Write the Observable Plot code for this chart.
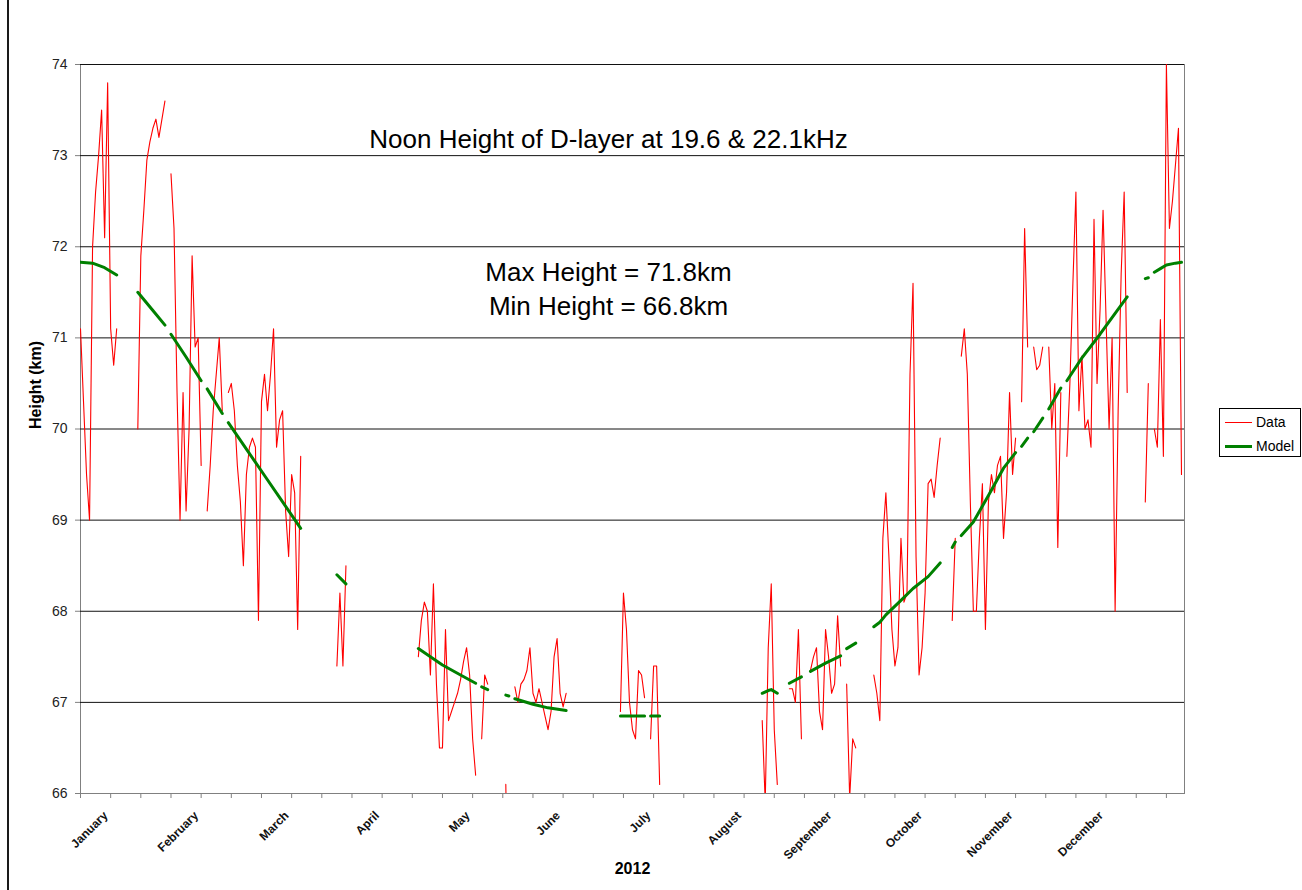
<!DOCTYPE html>
<html>
<head>
<meta charset="utf-8">
<script src="https://cdn.jsdelivr.net/npm/d3@7"></script>
<script src="https://cdn.jsdelivr.net/npm/@observablehq/plot@0.6"></script>
<style>
  body { margin: 0; background: #fff; font-family: "Liberation Sans", Arial, sans-serif; }
  #wrap { position: relative; width: 1302px; height: 890px; overflow: hidden; background: #fff; }
  #edge { position: absolute; left: 7px; top: 0; width: 2px; height: 890px; background: #1a1a1a; }
  #chart { position: absolute; left: 0; top: 0; }
  #legend { position: absolute; left: 1219px; top: 408px; width: 80px; height: 47px; border: 1px solid #000; background: #fff; font-size: 14px; color: #000; }
  .lg-line { position: absolute; left: 5px; width: 27px; }
  .lg-text { position: absolute; left: 36px; line-height: 16px; white-space: nowrap; }
</style>
</head>
<body>
<div id="wrap">
  <div id="edge"></div>
  <div id="chart"></div>
  <div id="legend"></div>
</div>
<script>
// ---- tick labels / categories ----
const monthLabels = ["January","February","March","April","May","June","July","August","September","October","November","December"];
const monthLengths = [31,29,31,30,31,30,31,31,30,31,30,31];
const monthTickDays = [10,40,70,100,130,160,190,220,250,280,310,340];
const yTicks = [66,67,68,69,70,71,72,73,74];
const titleText = "Noon Height of D-layer at 19.6 & 22.1kHz";
const maxText = "Max Height = 71.8km";
const minText = "Min Height = 66.8km";
const xLabel = "2012";
const yLabel = "Height (km)";
const seriesNames = ["Data","Model"];

// ---- Data series: daily noon height (km), one value per day of month, null = no data ----
const janHeights = [71.1,70.3,69.5,69.0,72.0,72.6,73.0,73.5,72.1,73.8,71.1,70.7,71.1,null,null,null,null,null,null,70.0,71.9,72.4,72.95,73.15,73.3,73.4,73.2,73.4,73.6,null,72.8];
const febHeights = [72.2,70.4,69.0,70.4,69.1,70.0,71.9,70.9,71.0,69.6,null,69.1,69.6,70.2,70.6,71.0,70.2,null,70.4,70.5,70.2,69.6,69.2,68.5,69.5,69.8,69.9,69.8,67.9];
const marHeights = [70.3,70.6,70.2,70.6,71.1,69.8,70.1,70.2,69.1,68.6,69.5,69.3,67.8,69.7,null,null,null,null,null,null,null,null,null,null,null,67.4,68.2,67.4,68.5,null,null];
const aprHeights = [null,null,null,null,null,null,null,null,null,null,null,null,null,null,null,null,null,null,null,null,null,67.5,67.9,68.1,68.0,67.3,68.3,67.2,66.5,66.5];
const mayHeights = [67.8,66.8,66.9,67.0,67.1,67.25,67.45,67.6,67.3,66.6,66.2,null,66.6,67.3,67.2,null,null,null,null,null,66.1,64.0,null,67.17,67.0,67.2,67.25,67.35,67.6,67.1,67.0];
const junHeights = [67.15,67.0,66.85,66.7,66.9,67.5,67.7,67.1,66.95,67.1,null,null,null,null,null,null,null,null,null,null,null,null,null,null,null,null,null,66.9,68.2,67.8];
const julHeights = [67.0,66.7,66.6,67.35,67.3,67.05,null,66.6,67.4,67.4,66.1,null,null,null,null,null,null,null,null,null,null,null,null,null,null,null,null,null,null,null,null];
const augHeights = [null,null,null,null,null,null,null,null,null,null,null,null,null,66.8,65.9,67.6,68.3,66.7,66.1,null,null,null,67.15,67.15,67.0,67.8,66.6,null,null,67.35,67.5];
const sepHeights = [67.6,66.9,66.7,67.8,67.5,67.1,67.2,67.95,67.4,null,67.2,65.95,66.6,66.5,null,null,null,null,null,67.3,67.1,66.8,68.8,69.3,68.6,67.8,67.4,67.6,68.8,68.1];
const octHeights = [68.2,70.6,71.6,68.6,67.3,67.6,68.2,69.4,69.45,69.25,69.6,69.9,null,null,null,67.9,68.8,null,70.8,71.1,70.6,69.2,68.0,68.0,68.8,69.4,67.8,69.2,69.5,69.3,69.6];
const novHeights = [69.7,68.8,69.3,70.4,69.5,69.9,null,70.3,72.2,70.9,null,70.9,70.65,70.7,70.9,null,70.9,70.0,70.5,68.7,70.4,null,69.7,70.5,71.6,72.6,70.2,70.8,70.0,70.1];
const decHeights = [69.8,72.3,70.5,71.3,72.4,71.2,70.0,71.0,68.0,70.2,71.7,72.6,70.4,null,null,null,null,null,69.2,70.5,null,70.0,69.8,71.2,69.7,74.0,72.2,72.5,72.9,73.3,69.5];

// ---- Model series: day of year and height, null = break in the line ----
const modelDay = [0,4,8,12,null, 19,24,28,null, 30,35,40,null, 42,47,null, 49,55,61,67,73,null, 85,88,null,
  112,120,126,131,null, 133,135,null, 141,142,null, 144,150,155,161,null, 179,187,null, 189,192,null,
  226,228,229,231,null, 235,239,null, 242,247,252,null, 254,257,null, 263,265,267,272,276,281,285,null,
  289,290,null, 292,296,301,306,310,null, 312,314,null, 316,319,null, 321,325,null, 327,332,338,343,347,null,
  353,354,null, 356,358,360,363,365];
const modelHeight = [71.83,71.82,71.77,71.69,null, 71.5,71.3,71.14,null, 71.04,70.79,70.53,null, 70.44,70.17,null, 70.07,69.78,69.49,69.2,68.91,null, 68.40,68.30,null,
  67.59,67.41,67.3,67.21,null, 67.17,67.14,null, 67.08,67.07,null, 67.04,66.98,66.94,66.91,null, 66.85,66.85,null, 66.85,66.85,null,
  67.10,67.13,67.14,67.10,null, 67.21,67.28,null, 67.34,67.43,67.51,null, 67.59,67.65,null, 67.83,67.88,67.96,68.12,68.25,68.38,68.53,null,
  68.7,68.76,null, 68.83,68.98,69.27,69.57,69.74,null, 69.81,69.9,null, 69.97,70.12,null, 70.22,70.45,null, 70.53,70.78,71.04,71.27,71.45,null,
  71.65,71.66,null, 71.72,71.76,71.80,71.82,71.83];

// ---- build tables ----
const monthArrays = [janHeights,febHeights,marHeights,aprHeights,mayHeights,junHeights,julHeights,augHeights,sepHeights,octHeights,novHeights,decHeights];
const monthStart = [0, ...d3.cumsum(monthLengths)].slice(0, 12);
const data = monthArrays.flatMap((vals, m) => vals.map((v, i) => ({day: monthStart[m] + i, height: v})));
const model = modelDay.map((d, i) => ({day: d, height: modelHeight[i]}));
const tickDays = d3.range(0, 366, 10);
const yearLength = d3.sum(monthLengths);

const FONT = "Liberation Sans, Arial, Helvetica, sans-serif";
const RED = "#ff0000";
const GREEN = "#008000";

const chart = Plot.plot({
  width: 1302,
  height: 890,
  marginLeft: 80,
  marginRight: 118,
  marginTop: 64,
  marginBottom: 97,
  style: {fontFamily: FONT, background: "transparent", color: "#000", overflow: "visible"},
  x: {domain: [0, yearLength]},
  y: {domain: [yTicks[0], yTicks[yTicks.length - 1]]},
  marks: [
    Plot.frame({stroke: "#808080"}),
    Plot.ruleY(yTicks.slice(1), {stroke: "#111", strokeWidth: 1}),
    Plot.axisY({ticks: yTicks, tickSize: 5, tickPadding: 8, fontSize: 14, stroke: "#808080", fill: "#222", label: null}),
    Plot.axisX({ticks: tickDays, tickSize: 5, tickFormat: () => "", stroke: "#808080", label: null}),
    Plot.axisX({ticks: monthTickDays, tickSize: 0, tickPadding: 20, tickRotate: -45, dx: -5,
      tickFormat: d => monthLabels[monthTickDays.indexOf(d)], fontSize: 12, fontWeight: "bold", fill: "#111", label: null}),
    Plot.line(data, {x: "day", y: "height", stroke: RED, strokeWidth: 1.1, clip: true}),
    Plot.line(model, {x: "day", y: "height", stroke: GREEN, strokeWidth: 3, clip: true}),
    Plot.text([titleText], {text: d => d, frameAnchor: "top", dx: -24, dy: 65, fontSize: 26, fill: "#000"}),
    Plot.text([maxText], {text: d => d, frameAnchor: "top", dx: -24, dy: 198, fontSize: 26, fill: "#000"}),
    Plot.text([minText], {text: d => d, frameAnchor: "top", dx: -24, dy: 232, fontSize: 26, fill: "#000"}),
    Plot.text([yLabel], {text: d => d, frameAnchor: "left", dx: -45, rotate: -90, fontSize: 16, fontWeight: "bold", fill: "#000"}),
    Plot.text([xLabel], {text: d => d, frameAnchor: "bottom", dy: 80, fontSize: 16, fontWeight: "bold", fill: "#000"})
  ]
});
document.getElementById("chart").appendChild(chart);

// ---- legend ----
const legend = document.getElementById("legend");
const legendColors = [RED, GREEN];
const legendWidths = [1, 3];
seriesNames.forEach((name, i) => {
  const cy = 13 + i * 24;
  const line = document.createElement("div");
  line.className = "lg-line";
  line.style.top = (cy - legendWidths[i] / 2) + "px";
  line.style.height = legendWidths[i] + "px";
  line.style.background = legendColors[i];
  legend.appendChild(line);
  const t = document.createElement("div");
  t.className = "lg-text";
  t.style.top = (cy - 8) + "px";
  t.textContent = name;
  legend.appendChild(t);
});
</script>
</body>
</html>
